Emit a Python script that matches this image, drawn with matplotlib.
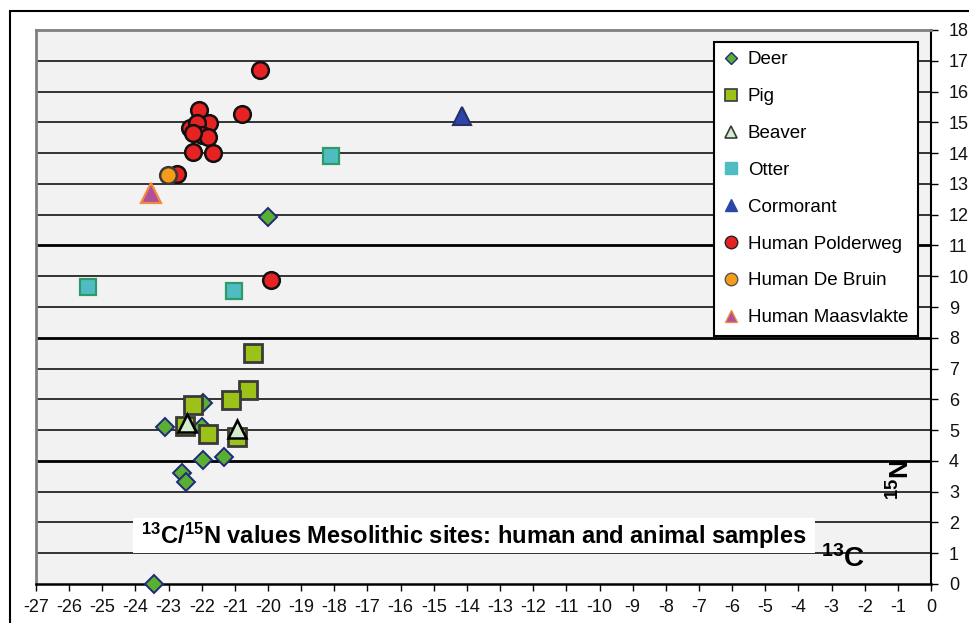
import matplotlib
matplotlib.use("Agg")
import matplotlib.pyplot as plt
from matplotlib.lines import Line2D
from matplotlib.patches import Rectangle

plt.rcParams['font.family'] = ['Liberation Sans', 'DejaVu Sans']
plt.rcParams['mathtext.fontset'] = 'custom'
plt.rcParams['mathtext.rm'] = 'Liberation Sans'
plt.rcParams['mathtext.bf'] = 'Liberation Sans:bold'

# ---- data (d13C, d15N) ----
deer_x = [-23.44, -20.0, -23.11, -21.96, -21.99, -21.96, -21.33, -22.6, -22.48]
deer_y = [0.0, 11.92, 5.10, 5.88, 5.10, 4.03, 4.13, 3.6, 3.31]

pig_x = [-20.45, -20.6, -21.12, -22.26, -22.5, -21.81, -20.94]
pig_y = [7.5, 6.3, 5.98, 5.82, 5.13, 4.87, 4.78]

beaver_x = [-22.45, -20.94]
beaver_y = [5.23, 5.05]

otter_x = [-25.43, -21.03, -18.1]
otter_y = [9.65, 9.52, 13.9]

cormorant_x = [-14.15]
cormorant_y = [15.2]

polder_x = [-20.24, -19.91, -20.79, -22.08, -21.78, -22.35, -22.14, -21.99, -21.81, -22.26, -22.26, -21.66, -22.75]
polder_y = [16.7, 9.88, 15.27, 15.4, 14.98, 14.81, 14.98, 14.59, 14.52, 14.65, 14.04, 14.0, 13.32]

debruin_x = [-23.02]
debruin_y = [13.29]

maas_x = [-23.53]
maas_y = [12.7]

series_names = ["Deer", "Pig", "Beaver", "Otter", "Cormorant",
                "Human Polderweg", "Human De Bruin", "Human Maasvlakte"]

x_ticks = list(range(-27, 1))
y_ticks = list(range(0, 19))

title_text = r'$\mathbf{{}^{13}C/{}^{15}N}$ values Mesolithic sites: human and animal samples'

# ---- styles ----
styles = {
    "Deer": dict(marker='D', ms=9, mfc='#5aae32', mec='#1f2a78', mew=1.4),
    "Pig": dict(marker='s', ms=12.5, mfc='#9cc21a', mec='#3a3a3a', mew=2),
    "Beaver": dict(marker='^', ms=13, mfc='#d4ecd0', mec='#000000', mew=1.8),
    "Otter": dict(marker='s', ms=12, mfc='#4fbcc4', mec='#2f9a68', mew=1.6),
    "Cormorant": dict(marker='^', ms=13, mfc='#2c46a8', mec='#27306a', mew=1.5),
    "Human Polderweg": dict(marker='o', ms=12, mfc='#e62222', mec='#111111', mew=1.8),
    "Human De Bruin": dict(marker='o', ms=12, mfc='#f59c18', mec='#3a3a3a', mew=1.8),
    "Human Maasvlakte": dict(marker='^', ms=15, mfc='#b04f9c', mec='#f08a3c', mew=1.6),
}
legend_styles = {
    "Deer": dict(marker='D', ms=6, mfc='#5aae32', mec='#1f2a78', mew=1),
    "Pig": dict(marker='s', ms=9, mfc='#9cc21a', mec='#3a3a3a', mew=1.2),
    "Beaver": dict(marker='^', ms=9, mfc='#d4ecd0', mec='#3a3a3a', mew=1.2),
    "Otter": dict(marker='s', ms=9, mfc='#4fbcc4', mec='#4fbcc4', mew=1),
    "Cormorant": dict(marker='^', ms=9, mfc='#2c46a8', mec='#2c46a8', mew=1),
    "Human Polderweg": dict(marker='o', ms=9, mfc='#e62222', mec='#222222', mew=1),
    "Human De Bruin": dict(marker='o', ms=9, mfc='#f59c18', mec='#555555', mew=1),
    "Human Maasvlakte": dict(marker='^', ms=9, mfc='#b04f9c', mec='#f08a3c', mew=1),
}

data = {
    "Deer": (deer_x, deer_y),
    "Pig": (pig_x, pig_y),
    "Beaver": (beaver_x, beaver_y),
    "Otter": (otter_x, otter_y),
    "Cormorant": (cormorant_x, cormorant_y),
    "Human Polderweg": (polder_x, polder_y),
    "Human De Bruin": (debruin_x, debruin_y),
    "Human Maasvlakte": (maas_x, maas_y),
}

fig = plt.figure(figsize=(9.69, 6.23), dpi=100)
fig.patch.set_facecolor('white')
W, H = 969, 623
left, right, top, bottom = 36, 931, 30, 584
ax = fig.add_axes([left / W, 1 - bottom / H, (right - left) / W, (bottom - top) / H])
ax.set_facecolor('#f2f2f2')
ax.set_xlim(-27, 0)
ax.set_ylim(0, 18)

# grid lines
for yv in y_ticks[1:-1]:
    lw = 2.0 if yv in (4, 8, 11) else 1.1
    ax.axhline(yv, color='black', lw=lw, zorder=1)

# title box
tb = Rectangle((-24.07, 1.01), 20.57, 1.13, facecolor='white', edgecolor='none', zorder=2)
ax.add_patch(tb)
ax.text(-24.07 + 20.57 / 2, 1.56, title_text, ha='center', va='center', fontsize=17,
        fontweight='bold', zorder=3)

order = ["Deer", "Pig", "Beaver", "Otter", "Cormorant",
         "Human Polderweg", "Human De Bruin", "Human Maasvlakte"]
z = {"Deer": 4, "Pig": 5, "Beaver": 6, "Otter": 5, "Cormorant": 5,
     "Human Polderweg": 5, "Human De Bruin": 6, "Human Maasvlakte": 6}
for name in order:
    xs, ys = data[name]
    ax.plot(xs, ys, ls='none', zorder=z[name], clip_on=False, **styles[name])

# axis labels inside the plot
ax.text(-2.65, 0.8, r'$\mathbf{{}^{13}C}$', fontsize=20, ha='center', va='center', zorder=3)
ax.text(-0.9, 3.4, r'$\mathbf{{}^{15}N}$', fontsize=19, ha='center', va='center',
        rotation=90, zorder=3)

# spines
ax.spines['left'].set_color('#808080')
ax.spines['top'].set_color('#808080')
ax.spines['left'].set_linewidth(2)
ax.spines['top'].set_linewidth(2)
ax.spines['right'].set_color('black')
ax.spines['bottom'].set_color('black')
ax.spines['right'].set_linewidth(1.5)
ax.spines['bottom'].set_linewidth(1.8)

ax.yaxis.tick_right()
ax.set_xticks(x_ticks)
ax.set_xticklabels([str(v) for v in x_ticks])
ax.set_yticks(y_ticks)
ax.set_yticklabels([str(v) for v in y_ticks])
ax.tick_params(axis='x', direction='out', length=5, width=1, labelsize=13, pad=6, colors='black')
ax.tick_params(axis='y', direction='out', length=5, width=1, labelsize=13, pad=8, colors='black')
for lbl in ax.get_xticklabels() + ax.get_yticklabels():
    lbl.set_color('#111111')

# legend
handles = [Line2D([], [], ls='none', **legend_styles[n]) for n in series_names]
leg = ax.legend(handles, series_names, loc='upper left',
                bbox_to_anchor=((714 - left) / (right - left), 1 - (42 - top) / (bottom - top)),
                fontsize=13.5, frameon=True, fancybox=False, framealpha=1,
                edgecolor='black', facecolor='white', labelspacing=1.05,
                handlelength=0.8, handletextpad=0.5, borderpad=0.5, borderaxespad=0)
leg.get_frame().set_linewidth(1.5)
leg.set_zorder(10)

# outer chart frame (partially visible)
frame = Rectangle((10 / W, -0.1), 1.2, 1 - 11 / H + 0.1, transform=fig.transFigure,
                  facecolor='none', edgecolor='black', lw=1.5, clip_on=False)
fig.add_artist(frame)

fig.savefig('out.png', dpi=100)
